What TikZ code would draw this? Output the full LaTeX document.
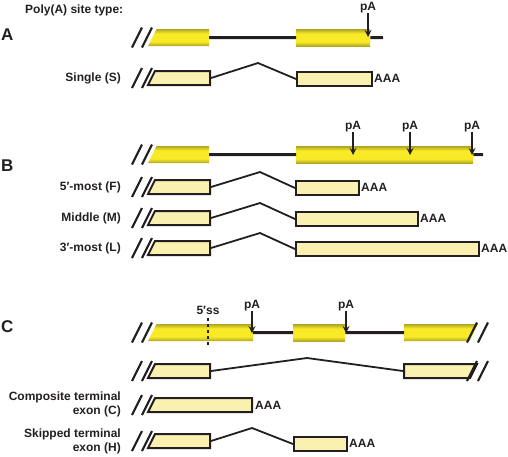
\documentclass[tikz,border=0pt]{standalone}
\usepackage{fontspec}
\setmainfont{Liberation Sans}
\usetikzlibrary{arrows}
\definecolor{exdark}{RGB}{175,165,35}
\definecolor{exlight}{RGB}{248,234,38}
\definecolor{txfill}{RGB}{250,240,175}
\definecolor{ink}{RGB}{35,31,32}
\pgfdeclareverticalshading{exonshade}{100bp}{color(0bp)=(exdark); color(25bp)=(exdark); color(38bp)=(exlight); color(62bp)=(exlight); color(75bp)=(exdark); color(100bp)=(exdark)}
\tikzstyle{exon} = [rectangle, inner sep=0, minimum height=17, shading=exonshade]
\tikzstyle{exonpath} = [shading=exonshade]
\tikzstyle{tx} = [rectangle, inner sep=0, minimum height=14, draw=ink, line width=2, fill=txfill]
\tikzstyle{txpath} = [draw=ink, line width=2, fill=txfill]
\tikzstyle{intron} = [line width=3, draw=ink]
\tikzstyle{splice} = [line width=1.8, draw=ink]
\tikzstyle{cutmark} = [line width=2.2, draw=ink]
\tikzstyle{pasite} = [line width=2, ->, >=stealth, draw=ink]
\tikzstyle{lbl} = [font=\bfseries\fontsize{12}{14}\selectfont, text=ink, inner sep=0]
\tikzstyle{panel} = [font=\bfseries\fontsize{17}{20}\selectfont, text=ink, inner sep=0]

\begin{document}
\begin{tikzpicture}[x=1pt, y=-1pt]
	\useasboundingbox (0,0) rectangle (508,456);
	\node[lbl, anchor=west] (title) at (25,10) {Poly(A) site type:};
	\node[panel, anchor=west] (panelA) at (1,35) {A};
	\node[panel, anchor=west] (panelB) at (1,166) {B};
	\node[panel, anchor=west] (panelC) at (1,327) {C};

	% A
	\shade[exonpath] (148,46) -- (156.5,29) -- (209,29) -- (209,46) -- cycle;
	\coordinate (a1) at (209,37.5);
	\node[exon, minimum width=74, anchor=north west] (a2) at (296,29) {};
	\coordinate (a3) at (383,37.5);
	\draw[intron] (a1) -- (a2.west) (a2.east) -- (a3);
	\node[lbl, anchor=south] (pa) at (368,13) {pA};
	\coordinate (patip) at (368,37);
	\draw[pasite] (pa) -- (patip);

	\node[lbl, anchor=east] (lS) at (121,78) {Single (S)};
	\draw[txpath] (148,85) -- (155,71) -- (210,71) -- (210,85) -- cycle;
	\coordinate (s1) at (211,78);
	\node[tx, minimum width=75, anchor=north west] (s2) at (296,71) {};
	\coordinate (s12) at (258,63);
	\draw[splice] (s1) -- (s12) -- (s2.west);
	\node[lbl, anchor=west] (sA) at (374,78) {AAA};

	% B
	\shade[exonpath] (148,163) -- (156.5,146) -- (209,146) -- (209,163) -- cycle;
	\coordinate (b1) at (209,154.5);
	\node[exon, minimum width=177, anchor=north west] (b2) at (296,146) {};
	\coordinate (b3) at (483,154.5);
	\draw[intron] (b1) -- (b2.west) (b2.east) -- (b3);
	\foreach \x [count=\i] in {353, 410, 472} {
		\node[lbl, anchor=south] (pab\i) at (\x,132) {pA};
		\coordinate (pab\i tip) at (\x,155);
		\draw[pasite] (pab\i) -- (pab\i tip);
	}

	\node[lbl, anchor=east] (lF) at (121,187) {5′-most (F)};
	\draw[txpath] (148,194) -- (155,180) -- (210,180) -- (210,194) -- cycle;
	\coordinate (f1) at (211,187);
	\node[tx, minimum width=63, anchor=north west] (f2) at (295,180) {};
	\coordinate (f12) at (260,172);
	\draw[splice] (f1) -- (f12) -- (f2.west);
	\node[lbl, anchor=west] (fA) at (361,187) {AAA};

	\node[lbl, anchor=east] (lM) at (121,218) {Middle (M)};
	\draw[txpath] (148,225) -- (155,211) -- (210,211) -- (210,225) -- cycle;
	\coordinate (m1) at (211,218);
	\node[tx, minimum width=122, anchor=north west] (m2) at (295,211) {};
	\coordinate (m12) at (260,203);
	\draw[splice] (m1) -- (m12) -- (m2.west);
	\node[lbl, anchor=west] (mA) at (420,218) {AAA};

	\node[lbl, anchor=east] (lL) at (121,248) {3′-most (L)};
	\draw[txpath] (148,255) -- (155,241) -- (210,241) -- (210,255) -- cycle;
	\coordinate (l1) at (211,248);
	\node[tx, minimum width=183, anchor=north west] (l2) at (295,241) {};
	\coordinate (l12) at (260,233);
	\draw[splice] (l1) -- (l12) -- (l2.west);
	\node[lbl, anchor=west] (lA) at (481,248) {AAA};

	% C
	\shade[exonpath] (148,341) -- (156.5,324) -- (253,324) -- (253,341) -- cycle;
	\coordinate (c1) at (253,332.5);
	\node[exon, minimum width=52, anchor=north west] (c2) at (293,324) {};
	\shade[exonpath] (404,341) -- (404,324) -- (478,324) -- (469.5,341) -- cycle;
	\coordinate (c3) at (404,332.5);
	\draw[intron] (c1) -- (c2.west) (c2.east) -- (c3);
	\node[lbl, anchor=south] (ss) at (208,315) {5′ss};
	\coordinate (ssend) at (208,345);
	\draw[dashed, line width=1.2, draw=ink, shorten <=3] (ss) -- (ssend);
	\foreach \x [count=\i] in {252, 346} {
		\node[lbl, anchor=south] (pac\i) at (\x,311) {pA};
		\coordinate (pac\i tip) at (\x,333);
		\draw[pasite] (pac\i) -- (pac\i tip);
	}

	\draw[txpath] (148,378) -- (155,364) -- (210,364) -- (210,378) -- cycle;
	\coordinate (r1) at (211,371);
	\draw[txpath] (404,378) -- (404,364) -- (477,364) -- (470,378) -- cycle;
	\coordinate (r2) at (403,371);
	\coordinate (r12) at (307,358);
	\draw[splice] (r1) -- (r12) -- (r2);

	\node[lbl, anchor=east, align=right] (lC) at (121,404) {Composite terminal\\exon (C)};
	\draw[txpath] (148,412) -- (155,398) -- (252,398) -- (252,412) -- cycle;
	\node[lbl, anchor=west] (kA) at (255,405) {AAA};

	\node[lbl, anchor=east, align=right] (lH) at (121,441) {Skipped terminal\\exon (H)};
	\draw[txpath] (148,448) -- (155,434) -- (210,434) -- (210,448) -- cycle;
	\coordinate (h1) at (211,441);
	\node[tx, minimum width=53, anchor=north west] (h2) at (293,436) {};
	\coordinate (h12) at (252,428);
	\draw[splice] (h1) -- (h12) -- (h2.west);
	\node[lbl, anchor=west] (hA) at (349,443) {AAA};

	% cut marks
	\foreach \y in {37.5, 78, 154.5, 187, 218, 248, 332.5, 371, 405, 441}
		\draw[cutmark] (132,\y+10) -- (142,\y-10) (142,\y+10) -- (152,\y-10);
	\foreach \y in {332.5, 371}
		\draw[cutmark] (467,\y+10) -- (477,\y-10) (478,\y+10) -- (488,\y-10);
\end{tikzpicture}
\end{document}
